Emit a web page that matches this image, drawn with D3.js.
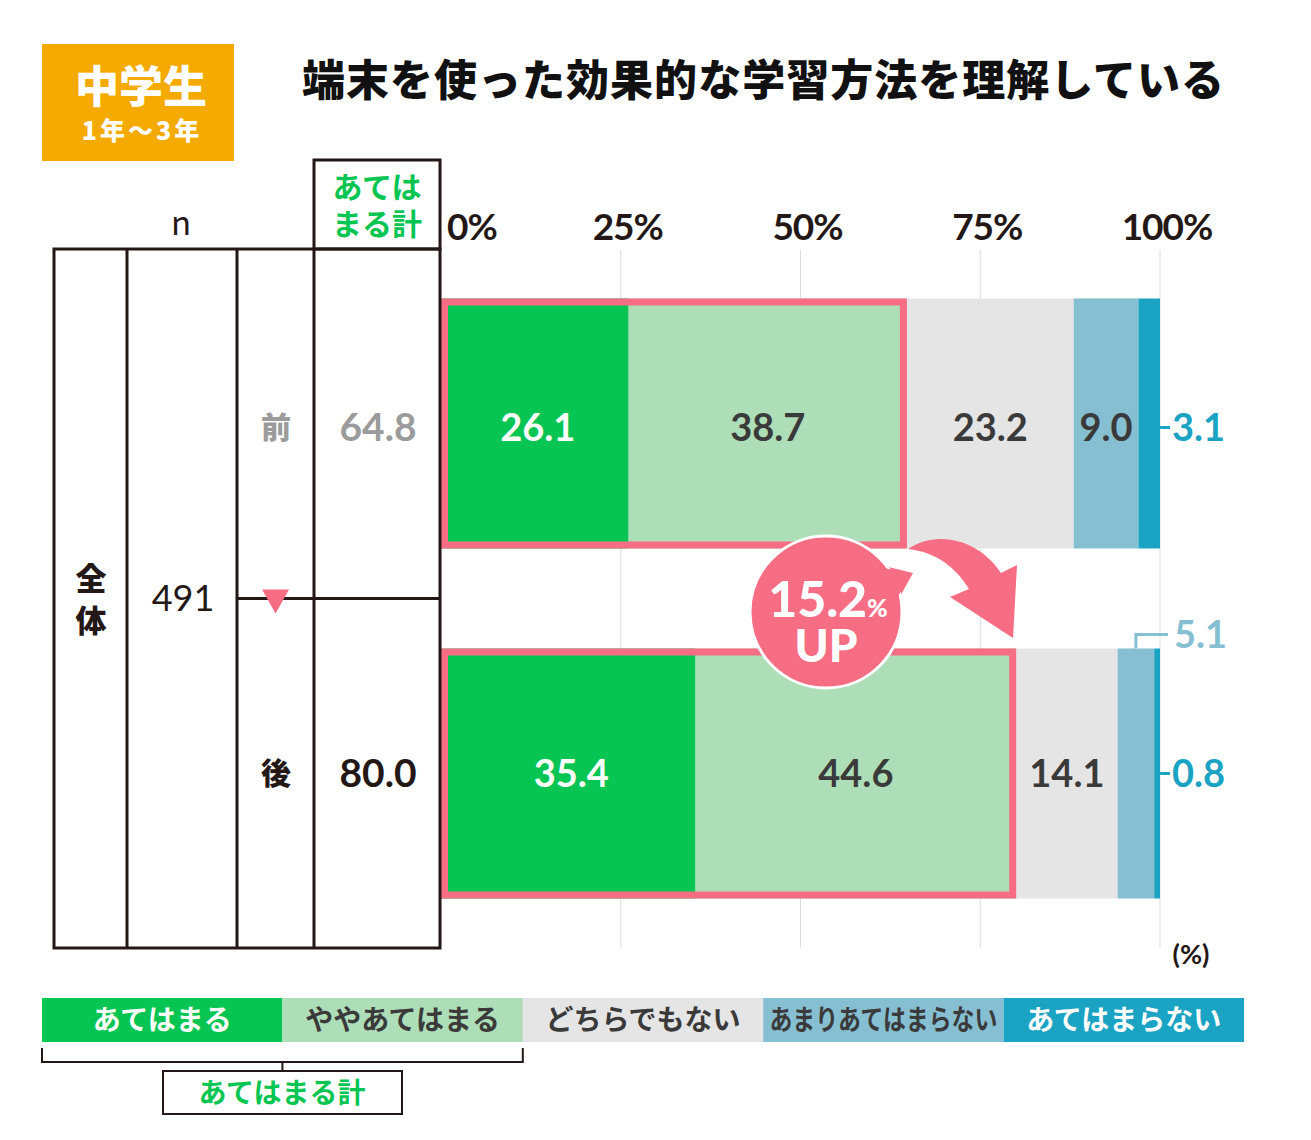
<!DOCTYPE html>
<html>
<head>
<meta charset="utf-8">
<title>端末を使った効果的な学習方法を理解している</title>
<style>
  html, body { margin: 0; padding: 0; background: #fff; }
  svg { display: block; }
</style>
</head>
<body>
<div id="chart"></div>
<script src="https://d3js.org/d3.v7.min.js"></script>
<script>
// データ
const categories = ['あてはまる', 'ややあてはまる', 'どちらでもない', 'あまりあてはまらない', 'あてはまらない'];
const periods = ['前', '後'];
const beforeValues = [26.1, 38.7, 23.2, 9.0, 3.1];
const afterValues = [35.4, 44.6, 14.1, 5.1, 0.8];
const totals = [64.8, 80.0];
const nValue = 491;
const upValue = 15.2;
const tickValues = [0, 25, 50, 75, 100];

const colors = ['#07C552', '#AEDEB8', '#E5E5E5', '#86BFD2', '#1AA3C3'];
const textColors = ['#fff', '#3a3a3a', '#3a3a3a', '#3a3a3a', '#fff'];
const pink = '#F76E84';
const ink = '#231815';
const JP = '"Noto Sans CJK JP", sans-serif';
const NUM = 'Lato, "Noto Sans", sans-serif';

const width = 1311, height = 1140;
const svg = d3.select('#chart').append('svg')
  .attr('width', width).attr('height', height);

const x = d3.scaleLinear().domain([0, 100]).range([441, 1160]);
const y = d3.scaleBand().domain(periods).range([249, 948])
  .paddingInner(0.2857).paddingOuter(0.1414);
const rows = [beforeValues, afterValues];

// バッジ
svg.append('rect').attr('x', 42).attr('y', 44).attr('width', 192).attr('height', 117)
  .attr('fill', '#F5AA00');
const badge = svg.append('text').attr('text-anchor', 'middle')
  .style('font-family', JP).style('font-weight', 900).attr('fill', '#fff');
badge.append('tspan').attr('x', 141).attr('y', 103).style('font-size', '44px').text('中学生');
badge.append('tspan').attr('x', 142).attr('y', 140).style('font-size', '25px')
  .style('letter-spacing', '3px').text('1年〜3年');

// タイトル
svg.append('text').attr('x', 763).attr('y', 96).attr('text-anchor', 'middle')
  .style('font-family', JP).style('font-weight', 900).style('font-size', '43px')
  .attr('fill', '#111').attr('textLength', 922).text('端末を使った効果的な学習方法を理解している');

// グリッド線
svg.append('g').selectAll('line').data(tickValues.slice(1)).join('line')
  .attr('x1', d => x(d)).attr('x2', d => x(d))
  .attr('y1', 250).attr('y2', 948)
  .attr('stroke', '#dcdcdc').attr('stroke-width', 1);

// 目盛りラベル
svg.append('g').selectAll('text').data(tickValues).join('text')
  .attr('x', d => d === 0 ? x(d) + 6 : x(d) + 7)
  .attr('y', 240)
  .attr('text-anchor', d => d === 0 ? 'start' : 'middle')
  .style('font-family', NUM)
  .style('font-weight', 700).style('font-size', '37px')
  .style('letter-spacing', '-1px')
  .attr('fill', ink).text(d => d + '%');

svg.append('text').attr('x', 1191).attr('y', 964).attr('text-anchor', 'middle')
  .style('font-family', NUM).style('font-weight', 700).style('font-size', '27px')
  .attr('fill', ink).text('(%)');

// 帯グラフ
rows.forEach((vals, i) => {
  const p = periods[i];
  const cum = d3.cumsum(vals);
  const segs = vals.map((v, k) => ({ v, k, x0: k === 0 ? 0 : cum[k - 1], x1: Math.min(cum[k], 100) }));
  const g = svg.append('g');
  g.selectAll('rect').data(segs).join('rect')
    .attr('x', d => x(d.x0)).attr('width', d => x(d.x1) - x(d.x0))
    .attr('y', y(p)).attr('height', y.bandwidth())
    .attr('fill', d => colors[d.k]);
  // あてはまる計の枠
  g.append('rect')
    .attr('x', x(0) + 3.5).attr('y', y(p) + 3.5)
    .attr('width', x(totals[i]) - x(0) - 7).attr('height', y.bandwidth() - 7)
    .attr('fill', 'none').attr('stroke', pink).attr('stroke-width', 7);
  const cy = y(p) + y.bandwidth() / 2 + (i === 0 ? 4 : 0);
  g.selectAll('text.val').data(segs.filter(d => d.v >= 9)).join('text')
    .attr('class', 'val')
    .attr('x', d => x((d.x0 + d.x1) / 2) + (d.k === 0 ? 3 : 0))
    .attr('y', cy).attr('dy', '0.35em').attr('text-anchor', 'middle')
    .style('font-family', NUM).style('font-weight', 700).style('font-size', '38px')
    .attr('fill', d => textColors[d.k]).text(d => d.v.toFixed(1));
  // あてはまらない（外側）
  g.append('line').attr('x1', x(100)).attr('x2', x(100) + 10)
    .attr('y1', cy).attr('y2', cy).attr('stroke', colors[4]).attr('stroke-width', 3);
  g.append('text').attr('x', x(100) + 12).attr('y', cy).attr('dy', '0.35em')
    .style('font-family', NUM).style('font-weight', 700).style('font-size', '38px')
    .attr('fill', colors[4]).text(vals[4].toFixed(1));
  // あまりあてはまらない（小さい場合は上に引き出し）
  if (vals[3] < 9) {
    const mx = x((segs[3].x0 + segs[3].x1) / 2);
    const top = y(p);
    g.append('path')
      .attr('d', `M${mx},${top} V${top - 14} H${x(100) + 8}`)
      .attr('fill', 'none').attr('stroke', colors[3]).attr('stroke-width', 3);
    g.append('text').attr('x', x(100) + 14).attr('y', top - 14).attr('dy', '0.35em')
      .style('font-family', NUM).style('font-weight', 700).style('font-size', '38px')
      .attr('fill', colors[3]).text(vals[3].toFixed(1));
  }
});

// 表
const T = { left: 54, c1: 127, c2: 237, c3: 314, right: 440, top: 249, bottom: 948, htop: 160 };
const tg = svg.append('g').attr('stroke', ink).attr('stroke-width', 3).attr('fill', 'none');
tg.append('rect').attr('x', T.left).attr('y', T.top).attr('width', T.right - T.left).attr('height', T.bottom - T.top);
tg.append('rect').attr('x', T.c3).attr('y', T.htop).attr('width', T.right - T.c3).attr('height', T.top - T.htop);
[T.c1, T.c2, T.c3].forEach(cx => tg.append('line').attr('x1', cx).attr('x2', cx).attr('y1', T.top).attr('y2', T.bottom));
const midY = (T.top + T.bottom) / 2;
tg.append('line').attr('x1', T.c2).attr('x2', T.right).attr('y1', midY).attr('y2', midY);

svg.append('text').attr('x', 181).attr('y', 235).attr('text-anchor', 'middle')
  .style('font-family', JP).style('font-size', '33px').attr('fill', ink).text('n');
const head = svg.append('text').attr('text-anchor', 'middle')
  .style('font-family', JP).style('font-weight', 700).style('font-size', '30px')
  .attr('fill', colors[0]);
head.append('tspan').attr('x', 377).attr('y', 198).text('あては');
head.append('tspan').attr('x', 377).attr('y', 235).text('まる計');

const whole = svg.append('text').attr('text-anchor', 'middle')
  .style('font-family', JP).style('font-weight', 900).style('font-size', '31px')
  .attr('fill', ink);
whole.append('tspan').attr('x', 91).attr('y', 590).text('全');
whole.append('tspan').attr('x', 91).attr('y', 632).text('体');
svg.append('text').attr('x', 183).attr('y', midY).attr('dy', '0.35em').attr('text-anchor', 'middle')
  .style('font-family', NUM).style('font-size', '36px').attr('fill', ink).text(nValue);

periods.forEach((p, i) => {
  const cy = y(p) + y.bandwidth() / 2 + (i === 0 ? 4 : 0);
  const col = i === 0 ? '#9b9b9b' : ink;
  svg.append('text').attr('x', 276).attr('y', cy).attr('dy', '0.36em').attr('text-anchor', 'middle')
    .style('font-family', JP).style('font-weight', 900).style('font-size', '30px')
    .attr('fill', col).text(p);
  svg.append('text').attr('x', 378).attr('y', cy).attr('dy', '0.35em').attr('text-anchor', 'middle')
    .style('font-family', NUM).style('font-weight', 700).style('font-size', '39px')
    .attr('fill', col).text(totals[i].toFixed(1));
});

// ▼
svg.append('path').attr('d', `M262,${midY - 9} L289,${midY - 9} L275.5,${midY + 15} Z`).attr('fill', pink);

// 矢印
svg.append('path')
  .attr('d', 'M908,549 C935,530 978,538 1001,573 L1017,565 L1013,638 L950,597 L969,589 C955,566 935,552 908,549 Z')
  .attr('fill', pink);

// UPバッジ
const bc = { x: 826, y: 612, r: 76 };
svg.append('path').attr('d', 'M884,566 L913,573 L898,600 Z').attr('fill', pink);
svg.append('circle').attr('cx', bc.x).attr('cy', bc.y).attr('r', bc.r)
  .attr('fill', pink).attr('stroke', '#fff').attr('stroke-width', 3);
svg.append('path').attr('d', 'M884,568 L911,574 L897,598 Z').attr('fill', pink);
const up = svg.append('text').attr('text-anchor', 'middle')
  .style('font-family', NUM).style('font-weight', 900).attr('fill', '#fff');
up.append('tspan').attr('x', 828).attr('y', 617).style('font-size', '50px').text(upValue.toFixed(1));
up.append('tspan').style('font-size', '25px').text('%');
up.append('tspan').attr('x', 826).attr('y', 662).style('font-size', '46px').text('UP');

// 凡例
const lx = d3.scaleBand().domain(categories).range([42, 1244]);
const lg = svg.append('g');
lg.selectAll('rect').data(categories).join('rect')
  .attr('x', d => lx(d)).attr('width', lx.bandwidth())
  .attr('y', 998).attr('height', 44)
  .attr('fill', (d, i) => colors[i]);
lg.selectAll('text').data(categories).join('text')
  .attr('x', d => lx(d) + lx.bandwidth() / 2).attr('y', 1020).attr('dy', '0.36em')
  .attr('text-anchor', 'middle')
  .style('font-family', JP).style('font-weight', 700).style('font-size', '28px')
  .attr('fill', (d, i) => textColors[i])
  .each(function (d) { if (d.length >= 9) d3.select(this).attr('textLength', 228).attr('lengthAdjust', 'spacingAndGlyphs'); })
  .text(d => d);

// 括弧
const bx0 = lx(categories[0]), bx1 = lx(categories[1]) + lx.bandwidth();
svg.append('path').attr('d', `M${bx0},1048 V1062 H${bx1} V1048 M${(bx0 + bx1) / 2},1062 V1071`)
  .attr('fill', 'none').attr('stroke', ink).attr('stroke-width', 2);
svg.append('rect').attr('x', 163).attr('y', 1071).attr('width', 239).attr('height', 43)
  .attr('fill', '#fff').attr('stroke', ink).attr('stroke-width', 2);
svg.append('text').attr('x', 282).attr('y', 1093).attr('dy', '0.36em').attr('text-anchor', 'middle')
  .style('font-family', JP).style('font-weight', 700).style('font-size', '28px')
  .attr('fill', colors[0]).text('あてはまる計');
</script>
</body>
</html>
